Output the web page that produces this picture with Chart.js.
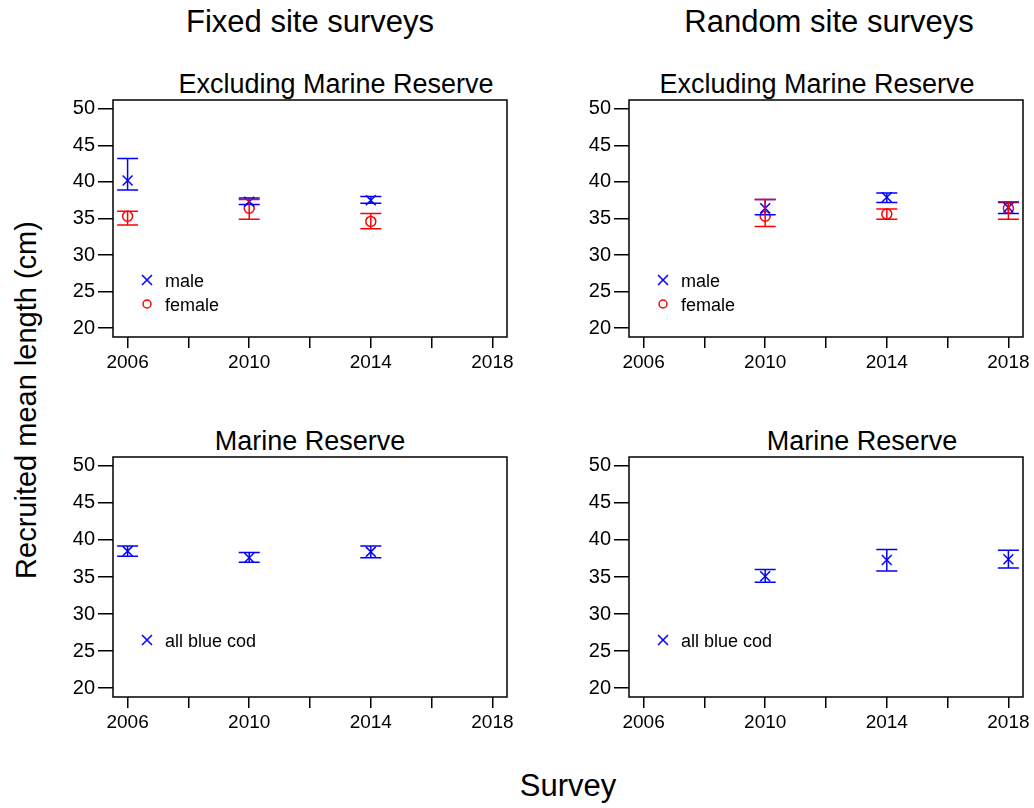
<!DOCTYPE html>
<html><head><meta charset="utf-8">
<script src="https://cdn.jsdelivr.net/npm/chart.js@4/dist/chart.umd.min.js"></script>
<style>
body{margin:0;width:1034px;height:808px;background:#fff;position:relative;font-family:"Liberation Sans",Arial,sans-serif;overflow:hidden}
.t{position:absolute;white-space:nowrap;transform:translateX(-50%);color:#000}
canvas{position:absolute}
</style></head><body>
<div class="t" style="left:310px;top:4px;font-size:31px">Fixed site surveys</div>
<div class="t" style="left:829px;top:4px;font-size:31px">Random site surveys</div>
<div class="t" style="left:336px;top:69px;font-size:27px">Excluding Marine Reserve</div>
<div class="t" style="left:817px;top:69px;font-size:27px">Excluding Marine Reserve</div>
<div class="t" style="left:310px;top:426px;font-size:27px">Marine Reserve</div>
<div class="t" style="left:862px;top:426px;font-size:27px">Marine Reserve</div>
<div class="t" style="left:568px;top:768px;font-size:31px">Survey</div>
<div class="t" style="left:26px;top:400px;font-size:29px;transform:translate(-50%,-50%) rotate(-90deg)">Recruited mean length (cm)</div>
<canvas id="c1" style="left:53px;top:85px"></canvas>
<canvas id="c2" style="left:569px;top:85px"></canvas>
<canvas id="c3" style="left:53px;top:442px"></canvas>
<canvas id="c4" style="left:569px;top:442px"></canvas>
<script>
const xTicks=[2006,2008,2010,2012,2014,2016,2018];
const xLabels=[2006,2010,2014,2018];
const yTicks=[20,25,30,35,40,45,50];
// Fixed, excluding reserve
const fxYears=[2006,2010,2014];
const fxMale=[40.2,37.3,37.5], fxMaleLo=[38.9,36.9,37.1], fxMaleHi=[43.2,37.8,38.0];
const fxFem=[35.3,36.4,34.6], fxFemLo=[34.1,34.9,33.6], fxFemHi=[36.0,37.6,35.7];
// Random, excluding reserve
const rdYears=[2010,2014,2018];
const rdMale=[36.4,37.9,36.5], rdMaleLo=[35.5,37.2,35.7], rdMaleHi=[37.6,38.5,37.2];
const rdFem=[35.3,35.6,36.4], rdFemLo=[33.9,34.9,34.9], rdFemHi=[37.6,36.3,37.3];
// Marine reserve
const fxAll=[38.5,37.6,38.4], fxAllLo=[37.8,37.0,37.6], fxAllHi=[39.2,38.3,39.2];
const rdAll=[35.1,37.3,37.4], rdAllLo=[34.3,35.8,36.2], rdAllHi=[36.0,38.7,38.6];

function ds(years,v,lo,hi,color,style){
  return {data:years.map((x,i)=>({x:x,y:v[i],lo:lo[i],hi:hi[i]})),borderColor:color,backgroundColor:'rgba(0,0,0,0)',
    pointStyle:style,pointRadius:style==='circle'?5:7,borderWidth:1.5,showLine:false,pointHoverRadius:7};
}
const errPlugin={id:'err',afterDatasetsDraw(ch){
  const c=ch.ctx,xs=ch.scales.x,ys=ch.scales.y,a=ch.chartArea;
  ch.data.datasets.forEach(d=>{
    c.save();c.strokeStyle=d.borderColor;c.lineWidth=1.5;
    d.data.forEach(p=>{const px=xs.getPixelForValue(p.x),t=ys.getPixelForValue(p.hi),b=ys.getPixelForValue(p.lo);
      c.beginPath();c.moveTo(px,t);c.lineTo(px,b);c.moveTo(px-10.5,t);c.lineTo(px+10.5,t);c.moveTo(px-10.5,b);c.lineTo(px+10.5,b);c.stroke();});
    c.restore();
  });
  c.save();c.strokeStyle='#000';c.lineWidth=1.5;c.strokeRect(a.left,a.top,a.right-a.left,a.bottom-a.top);
  const leg=ch.options.plugins.leg;c.font='18px "Liberation Sans",Arial';c.textBaseline='middle';c.fillStyle='#000';
  leg.forEach((l,i)=>{const lx=a.left+34,ly=a.top+ch.options.plugins.legTop+i*24;
    c.strokeStyle=l.color;c.lineWidth=1.5;c.beginPath();
    if(l.style==='x'){c.moveTo(lx-5,ly-5);c.lineTo(lx+5,ly+5);c.moveTo(lx+5,ly-5);c.lineTo(lx-5,ly+5);c.stroke();}
    else{c.arc(lx,ly,4,0,Math.PI*2);c.stroke();}
    c.fillText(l.text,lx+18,ly+2);});
  c.restore();
}};
function make(id,w,h,datasets,leg,legTop){
  const cv=document.getElementById(id);cv.width=w;cv.height=h;cv.style.width=w+'px';cv.style.height=h+'px';
  new Chart(cv,{type:'scatter',data:{datasets:datasets},plugins:[errPlugin],
    options:{responsive:false,animation:false,layout:{padding:{right:10,top:0}},
      plugins:{legend:{display:false},tooltip:{enabled:false},leg:leg,legTop:legTop},
      scales:{
        x:{type:'linear',min:2005.52,max:2018.48,afterBuildTicks(s){s.ticks=xTicks.map(v=>({value:v}));},
          afterFit(s){s.height=42;},border:{display:false},
          grid:{drawOnChartArea:false,tickLength:11,color:'#000',lineWidth:1.5},
          ticks:{color:'#000',font:{size:19,family:'"Liberation Sans",Arial'},padding:3,autoSkip:false,maxRotation:0,
            callback:v=>xLabels.includes(v)?String(v):''}},
        y:{min:18.8,max:51.2,afterBuildTicks(s){s.ticks=yTicks.map(v=>({value:v}));},
          afterFit(s){s.width=60;},border:{display:false},
          grid:{drawOnChartArea:false,tickLength:15,color:'#000',lineWidth:1.5},
          ticks:{color:'#000',font:{size:20,family:'"Liberation Sans",Arial'},padding:3}}
      }}});
}
const legMF=[{style:'x',color:'#0000ff',text:'male'},{style:'o',color:'#ff0000',text:'female'}];
const legAll=[{style:'x',color:'#0000ff',text:'all blue cod'}];
make('c1',464,294,[ds(fxYears,fxMale,fxMaleLo,fxMaleHi,'#0000ff','crossRot'),ds(fxYears,fxFem,fxFemLo,fxFemHi,'#ff0000','circle')],legMF,180);
make('c2',464,294,[ds(rdYears,rdMale,rdMaleLo,rdMaleHi,'#0000ff','crossRot'),ds(rdYears,rdFem,rdFemLo,rdFemHi,'#ff0000','circle')],legMF,180);
make('c3',464,297,[ds(fxYears,fxAll,fxAllLo,fxAllHi,'#0000ff','crossRot')],legAll,183);
make('c4',464,297,[ds(rdYears,rdAll,rdAllLo,rdAllHi,'#0000ff','crossRot')],legAll,183);
</script></body></html>
